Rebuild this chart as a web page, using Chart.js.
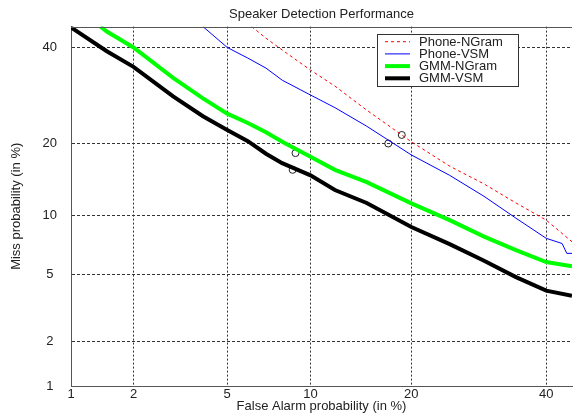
<!DOCTYPE html>
<html>
<head>
<meta charset="utf-8">
<script src="https://cdn.jsdelivr.net/npm/chart.js@4.4.1/dist/chart.umd.min.js"></script>
<style>
  html, body { margin: 0; padding: 0; background: #fff; overflow: hidden; }
  #wrap { width: 577px; height: 414px; }
</style>
</head>
<body>
<div id="wrap"><canvas id="detChart" width="577" height="414"></canvas></div>
<script>
const xTicks = [1, 2, 5, 10, 20, 40];
const yTicks = [1, 2, 5, 10, 20, 40];
const xMin = 1, xMax = 44.4;
const yMin = 1, yMax = 45;

const labels = ["Phone-NGram", "Phone-VSM", "GMM-NGram", "GMM-VSM"];

// false alarm (%) / miss (%) pairs
const phoneNgramFA = [6.2, 7, 8, 10, 12, 15, 20, 25, 30, 35, 40, 44.4];
const phoneNgramMiss = [45, 42.2, 39.4, 34.75, 31.2, 26.2, 20.3, 16.35, 13.8, 11.4, 9.5, 7.45];

const phoneVsmFA = [4, 5, 6, 7, 8, 10, 12, 15, 20, 25, 30, 35, 40, 42.7, 43.5, 44.4];
const phoneVsmMiss = [45, 40, 37.5, 35.2, 32.5, 29.3, 26.7, 23.1, 18.1, 15, 12.2, 9.7, 7.75, 7.3, 6.5, 6.5];

const gmmNgramFA = [1.4, 1.5, 2, 3, 4, 5, 6, 7, 8, 10, 12, 15, 20, 25, 30, 35, 40, 44.4];
const gmmNgramMiss = [45, 43.8, 40, 33, 28.6, 25.5, 23.7, 22, 20.3, 17.8, 15.8, 14.05, 11.35, 9.5, 7.9, 6.75, 5.85, 5.55];

const gmmVsmFA = [1, 1.5, 2, 3, 4, 5, 6, 7, 8, 10, 12, 15, 20, 25, 30, 35, 40, 44.4];
const gmmVsmMiss = [44.8, 39.1, 35.5, 29, 25, 22.4, 20.4, 18.3, 16.8, 15, 13, 11.4, 8.8, 7.25, 5.95, 4.85, 4.07, 3.8];

// operating points (circles)
const dcfFA = [18.85, 17.3, 8.9, 8.7];
const dcfMiss = [21.5, 20, 18.4, 15.8];

// inverse normal cdf (Acklam)
function probit(p) {
  const a = [-3.969683028665376e+01, 2.209460984245205e+02, -2.759285104469687e+02, 1.383577518672690e+02, -3.066479806614716e+01, 2.506628277459239e+00];
  const b = [-5.447609879822406e+01, 1.615858368580409e+02, -1.556989798598866e+02, 6.680131188771972e+01, -1.328068155288572e+01];
  const c = [-7.784894002430293e-03, -3.223964580411365e-01, -2.400758277161838e+00, -2.549671010229583e+00, 4.374664141464968e+00, 2.938163982698783e+00];
  const d = [7.784695709041462e-03, 3.224671290700398e-01, 2.445134137142996e+00, 3.754408661907416e+00];
  const pl = 0.02425;
  let q, r;
  if (p < pl) {
    q = Math.sqrt(-2 * Math.log(p));
    return (((((c[0] * q + c[1]) * q + c[2]) * q + c[3]) * q + c[4]) * q + c[5]) / ((((d[0] * q + d[1]) * q + d[2]) * q + d[3]) * q + 1);
  }
  if (p <= 1 - pl) {
    q = p - 0.5;
    r = q * q;
    return (((((a[0] * r + a[1]) * r + a[2]) * r + a[3]) * r + a[4]) * r + a[5]) * q / (((((b[0] * r + b[1]) * r + b[2]) * r + b[3]) * r + b[4]) * r + 1);
  }
  q = Math.sqrt(-2 * Math.log(1 - p));
  return -(((((c[0] * q + c[1]) * q + c[2]) * q + c[3]) * q + c[4]) * q + c[5]) / ((((d[0] * q + d[1]) * q + d[2]) * q + d[3]) * q + 1);
}

function normCdf(z) {
  const t = 1 / (1 + 0.2316419 * Math.abs(z));
  const y = 0.3989423 * Math.exp(-z * z / 2) * t * (0.3193815 + t * (-0.3565638 + t * (1.781478 + t * (-1.821256 + t * 1.330274))));
  return z > 0 ? 1 - y : y;
}

// normal deviate scale, values in percent
class ProbitScale extends Chart.LinearScale {
  determineDataLimits() {
    this.min = this.options.min;
    this.max = this.options.max;
  }
  buildTicks() {
    return [];
  }
  configure() {
    super.configure();
    this._pMin = probit(this.min / 100);
    this._pMax = probit(this.max / 100);
  }
  getPixelForValue(value) {
    return this.getPixelForDecimal((probit(value / 100) - this._pMin) / (this._pMax - this._pMin));
  }
  getValueForPixel(pixel) {
    return 100 * normCdf(this._pMin + this.getDecimalForPixel(pixel) * (this._pMax - this._pMin));
  }
}
ProbitScale.id = "probit";
ProbitScale.defaults = Chart.LinearScale.defaults;
Chart.register(ProbitScale);

function points(xs, ys) {
  return xs.map((x, i) => ({ x: x, y: ys[i] }));
}

const frame = {
  id: "frame",
  afterDraw(chart) {
    const ctx = chart.ctx;
    const area = chart.chartArea;
    ctx.save();
    ctx.strokeStyle = "#555";
    ctx.lineWidth = 1;
    ctx.beginPath();
    ctx.moveTo(area.left, Math.round(area.top) + 0.5);
    ctx.lineTo(area.right, Math.round(area.top) + 0.5);
    ctx.stroke();

    // legend box
    const bx = 377.5, by = 34.5, bw = 141, bh = 52;
    ctx.fillStyle = "#fff";
    ctx.fillRect(bx, by, bw, bh);
    ctx.strokeStyle = "#333";
    ctx.strokeRect(bx, by, bw, bh);
    ctx.font = "13px 'Liberation Sans', Arial, sans-serif";
    ctx.textBaseline = "middle";
    ctx.textAlign = "left";
    for (let i = 0; i < labels.length; i++) {
      const ds = chart.data.datasets[i];
      const y = 41.7 + i * 12.2;
      ctx.strokeStyle = ds.borderColor;
      ctx.lineWidth = ds.borderWidth;
      ctx.setLineDash(ds.borderDash || []);
      ctx.beginPath();
      ctx.moveTo(385, y);
      ctx.lineTo(410, y);
      ctx.stroke();
      ctx.setLineDash([]);
      ctx.fillStyle = "#222";
      ctx.fillText(ds.label, 419, y + 0.5);
    }
    ctx.restore();
  },
};

let chart;

document.addEventListener("DOMContentLoaded", function () {
  const ctx = document.getElementById("detChart").getContext("2d");

  chart = new Chart(ctx, {
    type: "line",
    data: {
      datasets: [
        {
          label: labels[0],
          data: points(phoneNgramFA, phoneNgramMiss),
          borderColor: "#ff0000",
          borderWidth: 1,
          borderDash: [3, 3],
          pointRadius: 0,
        },
        {
          label: labels[1],
          data: points(phoneVsmFA, phoneVsmMiss),
          borderColor: "#0000ff",
          borderWidth: 1,
          pointRadius: 0,
        },
        {
          label: labels[2],
          data: points(gmmNgramFA, gmmNgramMiss),
          borderColor: "#00ff00",
          borderWidth: 4,
          pointRadius: 0,
        },
        {
          label: labels[3],
          data: points(gmmVsmFA, gmmVsmMiss),
          borderColor: "#000000",
          borderWidth: 4,
          pointRadius: 0,
        },
        {
          label: "DCF",
          data: points(dcfFA, dcfMiss),
          showLine: false,
          pointRadius: 3.5,
          pointBorderWidth: 1,
          pointBorderColor: "#222",
          pointBackgroundColor: "rgba(0,0,0,0)",
          borderColor: "#222",
        },
      ],
    },
    options: {
      responsive: false,
      animation: false,
      layout: { padding: 0 },
      scales: {
        x: {
          type: "probit",
          min: xMin,
          max: xMax,
          afterBuildTicks: (axis) => {
            axis.ticks = xTicks.map((v) => ({ value: v }));
          },
          afterFit: (axis) => {
            axis.height = 28;
          },
          ticks: {
            autoSkip: false,
            maxRotation: 0,
            padding: 1,
            color: "#222",
            font: { family: "'Liberation Sans', Arial, sans-serif", size: 13 },
            callback: (v) => String(v),
          },
          grid: { color: "#333", drawTicks: false, lineWidth: 1 },
          border: { color: "#555", width: 1, dash: [2, 2] },
          title: {
            display: true,
            text: "False Alarm probability (in %)",
            color: "#222",
            padding: { top: 0, bottom: 0 },
            font: { family: "'Liberation Sans', Arial, sans-serif", size: 13 },
          },
        },
        y: {
          type: "probit",
          min: yMin,
          max: yMax,
          afterBuildTicks: (axis) => {
            axis.ticks = yTicks.map((v) => ({ value: v }));
          },
          afterFit: (axis) => {
            axis.width = 71;
          },
          ticks: {
            autoSkip: false,
            padding: 14,
            crossAlign: "center",
            color: "#222",
            font: { family: "'Liberation Sans', Arial, sans-serif", size: 13 },
            callback: (v) => String(v),
          },
          grid: { color: "#333", drawTicks: false, lineWidth: 1 },
          border: { color: "#555", width: 1, dash: [3, 2] },
          title: {
            display: true,
            text: "Miss probability (in %)",
            color: "#222",
            padding: { top: 9, bottom: 0 },
            font: { family: "'Liberation Sans', Arial, sans-serif", size: 13 },
          },
        },
      },
      plugins: {
        legend: { display: false },
        tooltip: { enabled: false },
        title: {
          display: true,
          text: "Speaker Detection Performance",
          fullSize: false,
          color: "#222",
          padding: { top: 7, bottom: 4 },
          font: { family: "'Liberation Sans', Arial, sans-serif", size: 13, weight: "normal" },
        },
      },
    },
    plugins: [frame],
  });
});
</script>
</body>
</html>
